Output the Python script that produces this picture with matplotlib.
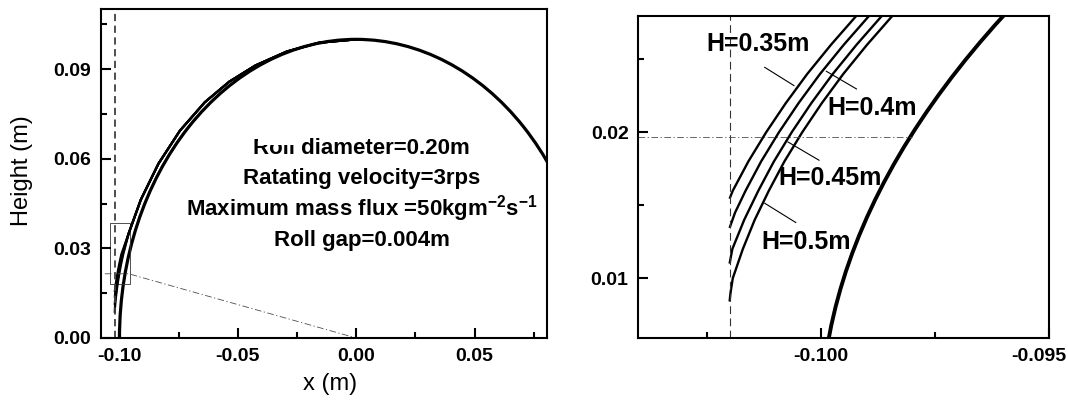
import matplotlib
matplotlib.use("Agg")
import matplotlib.pyplot as plt
from matplotlib.patches import Arc, Rectangle
from matplotlib.ticker import FixedLocator, FormatStrFormatter
from matplotlib.transforms import ScaledTranslation

plt.rcParams["font.family"] = ["Liberation Sans", "DejaVu Sans"]
plt.rcParams["font.weight"] = "bold"
plt.rcParams["mathtext.fontset"] = "custom"
plt.rcParams["mathtext.bf"] = "Liberation Sans:bold"
plt.rcParams["mathtext.rm"] = "Liberation Sans:bold"
plt.rcParams["axes.unicode_minus"] = False

# roll geometry
roll_diameter = 0.20
gap_edge_x = -0.102  # half of the 0.004 m roll gap beside the roll

# melt pool boundary for each pool height H (lower part)
h035_x = [-0.10200, -0.10193, -0.10159, -0.10120, -0.10077, -0.10030, -0.09978, -0.09922]
h035_y = [0.01545, 0.01600, 0.01800, 0.02000, 0.02200, 0.02400, 0.02600, 0.02800]

h040_x = [-0.10200, -0.10188, -0.10165, -0.10131, -0.10092, -0.10049, -0.10002, -0.09950, -0.09894]
h040_y = [0.01345, 0.01450, 0.01600, 0.01800, 0.02000, 0.02200, 0.02400, 0.02600, 0.02800]

h045_x = [-0.10200, -0.10194, -0.10168, -0.10137, -0.10103, -0.10064, -0.10021, -0.09974, -0.09922, -0.09866]
h045_y = [0.01100, 0.01200, 0.01400, 0.01600, 0.01800, 0.02000, 0.02200, 0.02400, 0.02600, 0.02800]

h050_x = [-0.10200, -0.10198, -0.10193, -0.10171, -0.10145, -0.10114, -0.10080, -0.10041,
          -0.09998, -0.09951, -0.09899, -0.09843]
h050_y = [0.00840, 0.00900, 0.01000, 0.01200, 0.01400, 0.01600, 0.01800, 0.02000,
          0.02200, 0.02400, 0.02600, 0.02800]

# upper part, the four curves coincide there
upper_x = [-0.09613, -0.09097, -0.08348, -0.07446, -0.06394, -0.05363, -0.04256, -0.02933, -0.01566, 0.0]
upper_y = [0.03499, 0.04635, 0.05845, 0.06943, 0.07895, 0.08582, 0.09126, 0.09592, 0.09887, 0.1000]

curves = [(h035_x, h035_y), (h040_x, h040_y), (h045_x, h045_y), (h050_x, h050_y)]

curve_labels = ["H=0.35m", "H=0.4m", "H=0.45m", "H=0.5m"]
label_x = [-0.10137, -0.09888, -0.09980, -0.10032]
label_y = [0.02605, 0.02170, 0.01687, 0.01246]
leader_x0 = [-0.10123, -0.09988, -0.10072, -0.10123]
leader_y0 = [0.02446, 0.02419, 0.01934, 0.01514]
leader_x1 = [-0.10059, -0.09922, -0.10004, -0.10055]
leader_y1 = [0.02321, 0.02298, 0.01809, 0.01382]

info_lines = ["Roll diameter=0.20m", "Ratating velocity=3rps",
              r"Maximum mass flux =50kgm$^{\mathbf{-2}}$s$^{\mathbf{-1}}$", "Roll gap=0.004m"]
info_x = 0.0023
info_y = [0.0617, 0.0516, 0.0410, 0.0308]

# zoom marker on the left panel
zoom_box = [-0.1042, 0.0180, -0.0957, 0.0385]
ray_x = [-0.1062, -0.0961, 0.0]
ray_y = [0.0215, 0.0215, 0.0]
zoom_level_y = 0.0197
zoom_level_x = [-0.1040, -0.0980]

left_xticks = [-0.10, -0.05, 0.00, 0.05]
left_xminor = [-0.075, -0.025, 0.025, 0.075]
left_yticks = [0.00, 0.03, 0.06, 0.09]
left_yminor = [0.015, 0.045, 0.075, 0.105]
right_xticks = [-0.100, -0.095]
right_xminor = [-0.1025, -0.0975]
right_yticks = [0.01, 0.02]
right_yminor = [0.015, 0.025]


def style(ax):
    for s in ax.spines.values():
        s.set_linewidth(1.5)
    ax.tick_params(which="both", direction="in", width=1.5, top=False, right=False,
                   labelsize=14, pad=7)
    ax.tick_params(which="major", length=7.5)
    ax.tick_params(which="minor", length=4)


fig = plt.figure(figsize=(10.68, 4.04), dpi=100)
ax1 = fig.add_axes([0.0946, 0.1634, 0.4173, 0.8131])
ax2 = fig.add_axes([0.5977, 0.1634, 0.3845, 0.7977])

# ---- left panel: whole roll
ax1.add_patch(Arc((0, 0), roll_diameter, roll_diameter, theta1=0, theta2=180, lw=2.3, color="black"))
for cx, cy in curves:
    ax1.plot(cx + upper_x, cy + upper_y, color="black", lw=1.6, solid_capstyle="butt")
ax1.axvline(gap_edge_x, color="0.25", lw=1.3, ls=(0, (4, 2.5)))
ax1.plot(ray_x, ray_y, color="0.3", lw=0.6, ls=(0, (8, 3, 1.5, 3)))
ax1.add_patch(Rectangle((zoom_box[0], zoom_box[1]), zoom_box[2] - zoom_box[0], zoom_box[3] - zoom_box[1],
                        fill=False, lw=0.6, ec="0.2"))
for txt, ty in zip(info_lines, info_y):
    ax1.text(info_x, ty, txt, fontsize=16, ha="center", va="baseline", zorder=3)
# top of the first line is hidden in the original figure
ax1.add_patch(Rectangle((-0.0416, 0.0646), 0.0165, 0.006, fc="white", ec="none", zorder=4))

ax1.set_xlim(-0.1078, 0.0805)
ax1.set_ylim(0, 0.11)
ax1.xaxis.set_major_locator(FixedLocator(left_xticks))
ax1.xaxis.set_minor_locator(FixedLocator(left_xminor))
ax1.yaxis.set_major_locator(FixedLocator(left_yticks))
ax1.yaxis.set_minor_locator(FixedLocator(left_yminor))
ax1.xaxis.set_major_formatter(FormatStrFormatter("%.2f"))
ax1.yaxis.set_major_formatter(FormatStrFormatter("%.2f"))
style(ax1)
ax1.set_xlabel("x (m)", fontsize=17, fontweight="normal")
ax1.set_ylabel("Height (m)", fontsize=17, fontweight="normal")
ax1.xaxis.set_label_coords(0.515, -0.106)
ax1.yaxis.set_label_coords(-0.153, 0.51)

# ---- right panel: zoom near the roll gap
ax2.add_patch(Arc((0, 0), roll_diameter, roll_diameter, theta1=0, theta2=180, lw=2.8, color="black"))
for cx, cy in curves:
    ax2.plot(cx + upper_x, cy + upper_y, color="black", lw=1.7, solid_capstyle="butt")
ax2.axvline(gap_edge_x, color="0.2", lw=0.8, ls=(0, (7, 4)))
ax2.plot(zoom_level_x, [zoom_level_y, zoom_level_y], color="0.3", lw=0.6, ls=(0, (8, 3, 1.5, 3)))
for i, lab in enumerate(curve_labels):
    ax2.plot([leader_x0[i], leader_x1[i]], [leader_y0[i], leader_y1[i]], color="black", lw=0.8)
    ax2.text(label_x[i], label_y[i], lab, fontsize=18, ha="center", va="center")

ax2.set_xlim(-0.104, -0.095)
ax2.set_ylim(0.0059, 0.028)
ax2.xaxis.set_major_locator(FixedLocator(right_xticks))
ax2.xaxis.set_minor_locator(FixedLocator(right_xminor))
ax2.yaxis.set_major_locator(FixedLocator(right_yticks))
ax2.yaxis.set_minor_locator(FixedLocator(right_yminor))
ax2.xaxis.set_major_formatter(FormatStrFormatter("%.3f"))
ax2.yaxis.set_major_formatter(FormatStrFormatter("%.2f"))
style(ax2)

# the last tick label sits a little left of its tick so it stays inside the figure
last_tick = ax2.xaxis.get_major_ticks()[-1]
last_tick.label1.set_transform(last_tick.label1.get_transform()
                               + ScaledTranslation(-0.1, 0, fig.dpi_scale_trans))

fig.savefig("out.png", dpi=100)
